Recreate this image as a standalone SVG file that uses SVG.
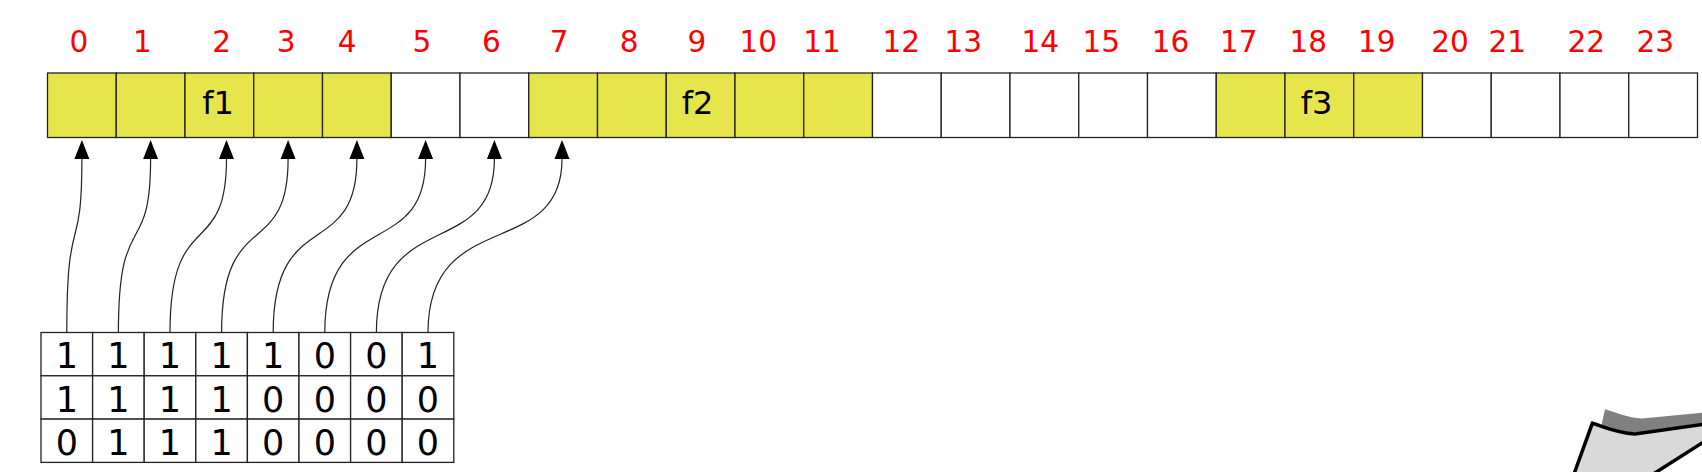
<svg xmlns="http://www.w3.org/2000/svg" width="1702" height="472" viewBox="0 0 1702 472">
<defs>
<style>
.c{stroke:#222;stroke-width:1.3;fill:#fff}
.y{fill:#e6e64c}
.idx{font-family:"DejaVu Sans","Liberation Sans",sans-serif;font-size:29.5px;fill:#ff0000;text-anchor:middle}
.f{font-family:"DejaVu Sans","Liberation Sans",sans-serif;font-size:32px;fill:#000;text-anchor:middle}
.b{font-family:"DejaVu Sans","Liberation Sans",sans-serif;font-size:35px;fill:#000;text-anchor:middle}
.t{stroke:#222;stroke-width:1.3;fill:#fff}
.e{fill:none;stroke:#222;stroke-width:1.2;marker-end:url(#ah)}
</style>
<marker id="ah" markerUnits="userSpaceOnUse" viewBox="0 -8 20 16" refX="0" refY="0" markerWidth="20" markerHeight="16" orient="auto">
<path d="M0,-7.5 L19,0 L0,7.5 Z" fill="#000"/>
</marker>
</defs>
<rect width="1702" height="472" fill="#fff"/>

<g id="indices">
<text class="idx" x="78.8" y="52">0</text>
<text class="idx" x="142.5" y="52">1</text>
<text class="idx" x="221.7" y="52">2</text>
<text class="idx" x="286.2" y="52">3</text>
<text class="idx" x="347.2" y="52">4</text>
<text class="idx" x="421.8" y="52">5</text>
<text class="idx" x="491.3" y="52">6</text>
<text class="idx" x="559.2" y="52">7</text>
<text class="idx" x="629.2" y="52">8</text>
<text class="idx" x="697" y="52">9</text>
<text class="idx" x="758.3" y="52">10</text>
<text class="idx" x="822" y="52">11</text>
<text class="idx" x="901.3" y="52">12</text>
<text class="idx" x="963.3" y="52">13</text>
<text class="idx" x="1040.3" y="52">14</text>
<text class="idx" x="1101.2" y="52">15</text>
<text class="idx" x="1170.5" y="52">16</text>
<text class="idx" x="1238.8" y="52">17</text>
<text class="idx" x="1308.3" y="52">18</text>
<text class="idx" x="1376.7" y="52">19</text>
<text class="idx" x="1450" y="52">20</text>
<text class="idx" x="1507.3" y="52">21</text>
<text class="idx" x="1586.3" y="52">22</text>
<text class="idx" x="1655.3" y="52">23</text>
</g>

<g id="slot0"><rect class="c y" x="47.5" y="73" width="68.75" height="64.5"/></g>
<g id="slot1"><rect class="c y" x="116.25" y="73" width="68.75" height="64.5"/></g>
<g id="slot2"><rect class="c y" x="185" y="73" width="68.75" height="64.5"/><text class="f" x="218" y="114">f1</text></g>
<g id="slot3"><rect class="c y" x="253.75" y="73" width="68.75" height="64.5"/></g>
<g id="slot4"><rect class="c y" x="322.5" y="73" width="68.75" height="64.5"/></g>
<g id="slot5"><rect class="c" x="391.25" y="73" width="68.75" height="64.5"/></g>
<g id="slot6"><rect class="c" x="460" y="73" width="68.75" height="64.5"/></g>
<g id="slot7"><rect class="c y" x="528.75" y="73" width="68.75" height="64.5"/></g>
<g id="slot8"><rect class="c y" x="597.5" y="73" width="68.75" height="64.5"/></g>
<g id="slot9"><rect class="c y" x="666.25" y="73" width="68.75" height="64.5"/><text class="f" x="697.5" y="114">f2</text></g>
<g id="slot10"><rect class="c y" x="735" y="73" width="68.75" height="64.5"/></g>
<g id="slot11"><rect class="c y" x="803.75" y="73" width="68.75" height="64.5"/></g>
<g id="slot12"><rect class="c" x="872.5" y="73" width="68.75" height="64.5"/></g>
<g id="slot13"><rect class="c" x="941.25" y="73" width="68.75" height="64.5"/></g>
<g id="slot14"><rect class="c" x="1010" y="73" width="68.75" height="64.5"/></g>
<g id="slot15"><rect class="c" x="1078.75" y="73" width="68.75" height="64.5"/></g>
<g id="slot16"><rect class="c" x="1147.5" y="73" width="68.75" height="64.5"/></g>
<g id="slot17"><rect class="c y" x="1216.25" y="73" width="68.75" height="64.5"/></g>
<g id="slot18"><rect class="c y" x="1285" y="73" width="68.75" height="64.5"/><text class="f" x="1316.5" y="114">f3</text></g>
<g id="slot19"><rect class="c y" x="1353.75" y="73" width="68.75" height="64.5"/></g>
<g id="slot20"><rect class="c" x="1422.5" y="73" width="68.75" height="64.5"/></g>
<g id="slot21"><rect class="c" x="1491.25" y="73" width="68.75" height="64.5"/></g>
<g id="slot22"><rect class="c" x="1560" y="73" width="68.75" height="64.5"/></g>
<g id="slot23"><rect class="c" x="1628.75" y="73" width="68.75" height="64.5"/></g>

<g id="connectors">
<path class="e" d="M66.8,332.5 C66.8,205 81.9,262 81.9,159"/>
<path class="e" d="M118.4,332.5 C118.4,205 150.6,262 150.6,159"/>
<path class="e" d="M170,332.5 C170,205 226.5,262 226.5,159"/>
<path class="e" d="M221.6,332.5 C221.6,205 288.1,262 288.1,159"/>
<path class="e" d="M273.2,332.5 C273.2,205 356.9,262 356.9,159"/>
<path class="e" d="M324.8,332.5 C324.8,205 425.6,262 425.6,159"/>
<path class="e" d="M376.4,332.5 C376.4,205 494.4,262 494.4,159"/>
<path class="e" d="M428,332.5 C428,205 562,262 562,159"/>
</g>

<g id="bits-r0">
<rect class="t" x="41" y="332.5" width="51.6" height="43.3"/><text class="b" x="66.8" y="368">1</text>
<rect class="t" x="92.6" y="332.5" width="51.6" height="43.3"/><text class="b" x="118.4" y="368">1</text>
<rect class="t" x="144.2" y="332.5" width="51.6" height="43.3"/><text class="b" x="170" y="368">1</text>
<rect class="t" x="195.8" y="332.5" width="51.6" height="43.3"/><text class="b" x="221.6" y="368">1</text>
<rect class="t" x="247.4" y="332.5" width="51.6" height="43.3"/><text class="b" x="273.2" y="368">1</text>
<rect class="t" x="299" y="332.5" width="51.6" height="43.3"/><text class="b" x="324.8" y="368">0</text>
<rect class="t" x="350.6" y="332.5" width="51.6" height="43.3"/><text class="b" x="376.4" y="368">0</text>
<rect class="t" x="402.2" y="332.5" width="51.6" height="43.3"/><text class="b" x="428" y="368">1</text>
</g>
<g id="bits-r1">
<rect class="t" x="41" y="375.8" width="51.6" height="43.3"/><text class="b" x="66.8" y="411.5">1</text>
<rect class="t" x="92.6" y="375.8" width="51.6" height="43.3"/><text class="b" x="118.4" y="411.5">1</text>
<rect class="t" x="144.2" y="375.8" width="51.6" height="43.3"/><text class="b" x="170" y="411.5">1</text>
<rect class="t" x="195.8" y="375.8" width="51.6" height="43.3"/><text class="b" x="221.6" y="411.5">1</text>
<rect class="t" x="247.4" y="375.8" width="51.6" height="43.3"/><text class="b" x="273.2" y="411.5">0</text>
<rect class="t" x="299" y="375.8" width="51.6" height="43.3"/><text class="b" x="324.8" y="411.5">0</text>
<rect class="t" x="350.6" y="375.8" width="51.6" height="43.3"/><text class="b" x="376.4" y="411.5">0</text>
<rect class="t" x="402.2" y="375.8" width="51.6" height="43.3"/><text class="b" x="428" y="411.5">0</text>
</g>
<g id="bits-r2">
<rect class="t" x="41" y="419.1" width="51.6" height="43.3"/><text class="b" x="66.8" y="454.5">0</text>
<rect class="t" x="92.6" y="419.1" width="51.6" height="43.3"/><text class="b" x="118.4" y="454.5">1</text>
<rect class="t" x="144.2" y="419.1" width="51.6" height="43.3"/><text class="b" x="170" y="454.5">1</text>
<rect class="t" x="195.8" y="419.1" width="51.6" height="43.3"/><text class="b" x="221.6" y="454.5">1</text>
<rect class="t" x="247.4" y="419.1" width="51.6" height="43.3"/><text class="b" x="273.2" y="454.5">0</text>
<rect class="t" x="299" y="419.1" width="51.6" height="43.3"/><text class="b" x="324.8" y="454.5">0</text>
<rect class="t" x="350.6" y="419.1" width="51.6" height="43.3"/><text class="b" x="376.4" y="454.5">0</text>
<rect class="t" x="402.2" y="419.1" width="51.6" height="43.3"/><text class="b" x="428" y="454.5">0</text>
</g>

<g id="corner-shape">
<path d="M1605,409.3 C1615,412 1628,418 1642,418.5 L1720,411 L1720,432 L1600,432 Z" fill="#808080"/>
<path d="M1592.3,423.3 C1605,427 1615,432.5 1635,434 L1720,422 L1720,431.6 L1636,485 L1570,485 Z" fill="#d9d9d9" stroke="#000" stroke-width="3.5" stroke-linejoin="miter"/>
</g>
</svg>
